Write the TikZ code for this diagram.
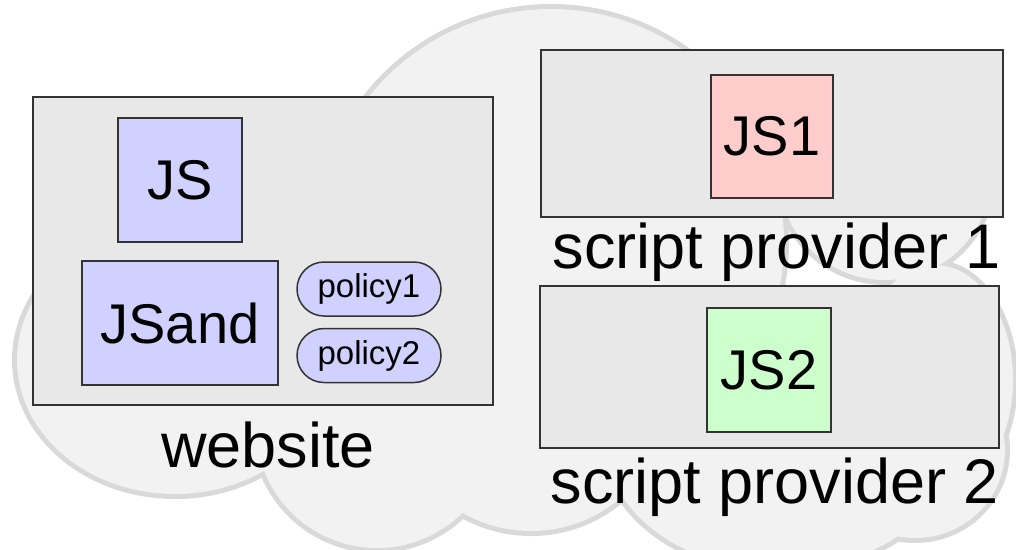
\documentclass[tikz,border=0pt]{standalone}
\usepackage{fontspec}
\setmainfont{Liberation Sans}
\def\cloudlobes{(175,360) ellipse (158pt and 134pt)
  (551,242) circle (233pt)
  (377,427) circle (121pt)
  (531,393) circle (138pt)
  (780,440) ellipse (175pt and 130pt)
  (935,380) ellipse (78pt and 115pt)
  (915,450) ellipse (90pt and 88pt)
  (885,175) ellipse (106pt and 105pt)}
\colorlet{cloud edge}{black!15}
\colorlet{cloud area}{black!5}
\colorlet{frame edge}{black!80}
\colorlet{frame area}{black!9}
\definecolor{script blue}{RGB}{209,209,255}
\definecolor{script red}{RGB}{255,204,204}
\definecolor{script green}{RGB}{204,255,204}
\tikzset{
  cloud outline/.style={draw=cloud edge, line width=10pt},
  cloud filled/.style={fill=cloud area},
  frame/.style={draw=frame edge, fill=frame area, line width=1.5pt, inner sep=0pt},
  script/.style={frame, fill=script blue, font=\fontsize{56}{60}\selectfont},
  policy/.style={frame, fill=script blue, rounded corners=27pt,
    minimum width=144pt, minimum height=54pt, font=\fontsize{33}{36}\selectfont},
  caption/.style={anchor=base, inner sep=0pt, font=\fontsize{63}{70}\selectfont}
}

\begin{document}
\begin{tikzpicture}[x=1pt, y=-1pt]
  \useasboundingbox (0,0) rectangle (1016,549);
  \begin{scope}
    \clip (0,0) rectangle (1016,549);
    \draw[cloud outline] \cloudlobes;
    \fill[cloud filled] \cloudlobes;
  \end{scope}
  % website
  \node[frame, minimum width=460pt, minimum height=308pt] (website) at (263,251) {};
  \node[script, minimum size=124pt] (js) at (180,180) {JS};
  \node[script, minimum width=196pt, minimum height=124pt] (jsand) at (180,323) {JSand};
  \node[policy] (policy1) at (369,289) {policy1};
  \node[policy] (policy2) at (369,355.5) {policy2};
  \node[caption] (website label) at (268,467) {website};
  % script providers
  \node[frame, minimum width=462pt, minimum height=167pt] (provider1) at (772,133.5) {};
  \node[script, fill=script red, minimum width=122pt, minimum height=123pt] (js1) at (772,136.5) {JS1};
  \node[caption] (provider1 label) at (777,268) {script provider 1};
  \node[frame, minimum width=459pt, minimum height=162pt] (provider2) at (769.5,367) {};
  \node[script, fill=script green, minimum size=124pt] (js2) at (769,370) {JS2};
  \node[caption] (provider2 label) at (775,503) {script provider 2};
\end{tikzpicture}
\end{document}
